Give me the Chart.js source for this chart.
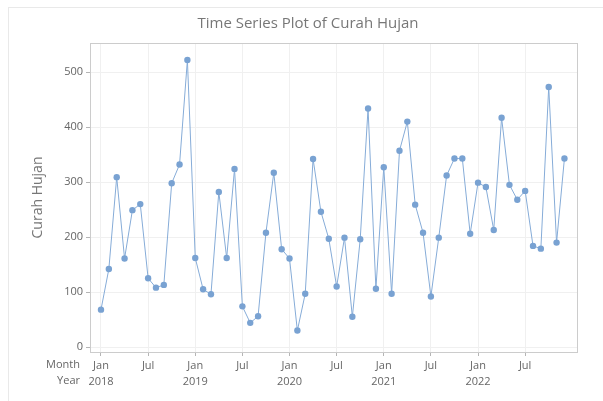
<!DOCTYPE html>
<html>
<head>
<meta charset="utf-8">
<script src="https://cdn.jsdelivr.net/npm/chart.js@4/dist/chart.umd.min.js"></script>
<style>
  html, body { margin: 0; padding: 0; background: #fff; overflow: hidden; }
  #card { position: absolute; left: 8px; top: 7px; width: 800px; height: 600px; border: 1px solid #e9e9e9; }
  #wrap { position: absolute; left: 0; top: 0; width: 603px; height: 401px; }
</style>
</head>
<body>
<div id="card"></div>
<div id="wrap"><canvas id="ts-curah-hujan" width="603" height="401"></canvas></div>
<script>
  // monthly rainfall, Jan 2018 - Dec 2022
  const years = [2018, 2019, 2020, 2021, 2022]
  const tickMonths = ['Jan', 'Jul']
  const yTicks = [0, 100, 200, 300, 400, 500]
  const curahHujan2018 = [68, 142, 309, 161, 249, 260, 125, 108, 113, 298, 332, 522]
  const curahHujan2019 = [162, 105, 96, 282, 162, 324, 74, 44, 56, 208, 317, 178]
  const curahHujan2020 = [161, 30, 97, 342, 246, 197, 110, 199, 55, 196, 434, 106]
  const curahHujan2021 = [327, 97, 357, 410, 259, 208, 92, 199, 312, 343, 343, 206]
  const curahHujan2022 = [299, 291, 213, 417, 295, 268, 284, 184, 179, 473, 190, 343]

  const curahHujan = [].concat(curahHujan2018, curahHujan2019, curahHujan2020, curahHujan2021, curahHujan2022)
  const points = curahHujan.map((v, i) => ({ x: i, y: v }))

  const fontFam = "'Open Sans', 'Noto Sans', sans-serif"
  const txtColor = '#666666'

  // title, plot frame and the "Month" / "Year" row captions
  const extras = {
    id: 'extras',
    afterDraw(chart) {
      const ctx = chart.ctx
      const a = chart.chartArea
      const xs = chart.scales.x
      ctx.save()
      ctx.strokeStyle = '#cccccc'
      ctx.lineWidth = 1
      ctx.strokeRect(Math.round(a.left) + 0.5, Math.round(a.top) + 0.5, Math.round(a.right - a.left), Math.round(a.bottom - a.top))

      ctx.font = '15px ' + fontFam
      ctx.fillStyle = '#777777'
      ctx.textAlign = 'center'
      ctx.textBaseline = 'middle'
      ctx.fillText('Time Series Plot of Curah Hujan', 308, 24)

      ctx.font = '11px ' + fontFam
      ctx.fillStyle = txtColor
      ctx.textAlign = 'right'
      ctx.fillText('Month', 80, xs.top + 13)
      ctx.fillText('Year', 80, xs.top + 29)
      ctx.restore()
    }
  }

  var tsCanvas = document.getElementById('ts-curah-hujan')
  var tsChart = new Chart(tsCanvas, {
    type: 'line',
    data: {
      datasets: [
        {
          label: 'Curah Hujan',
          data: points,
          borderColor: '#86acd8',
          backgroundColor: '#79a2d2',
          borderWidth: 1,
          pointRadius: 3.2,
          pointHoverRadius: 3.2,
          pointBorderWidth: 0,
          tension: 0
        }
      ]
    },
    options: {
      responsive: false,
      animation: false,
      layout: { padding: { left: 8, right: 26, top: 43, bottom: 0 } },
      plugins: {
        legend: { display: false },
        tooltip: { enabled: false },
        title: { display: false }
      },
      scales: {
        x: {
          type: 'linear',
          min: -1.4,
          max: 60.6,
          afterBuildTicks: scale => {
            const t = []
            for (let i = 0; i < 60; i += 6) t.push({ value: i })
            scale.ticks = t
          },
          afterFit: scale => { scale.height = 49 },
          ticks: {
            autoSkip: false,
            maxRotation: 0,
            padding: 2,
            color: txtColor,
            font: { family: fontFam, size: 11, lineHeight: 1.45 },
            callback: value => {
              const m = value % 12 === 0 ? tickMonths[0] : tickMonths[1]
              const yr = value % 12 === 0 ? String(years[value / 12]) : ''
              return [m, yr]
            }
          },
          grid: { color: '#f0f0f0', tickColor: '#b5b5b5', tickLength: 4 },
          border: { color: '#cccccc' }
        },
        y: {
          min: -9,
          max: 553,
          afterBuildTicks: scale => { scale.ticks = yTicks.map(v => ({ value: v })) },
          afterFit: scale => { scale.width = 82 },
          ticks: {
            padding: 3,
            color: txtColor,
            font: { family: fontFam, size: 11 }
          },
          title: {
            display: true,
            text: 'Curah Hujan',
            color: '#777777',
            font: { family: fontFam, size: 14 },
            padding: { top: 22, bottom: 0 }
          },
          grid: { color: '#f0f0f0', tickColor: '#b5b5b5', tickLength: 4 },
          border: { color: '#cccccc' }
        }
      }
    },
    plugins: [extras]
  })
</script>
</body>
</html>
